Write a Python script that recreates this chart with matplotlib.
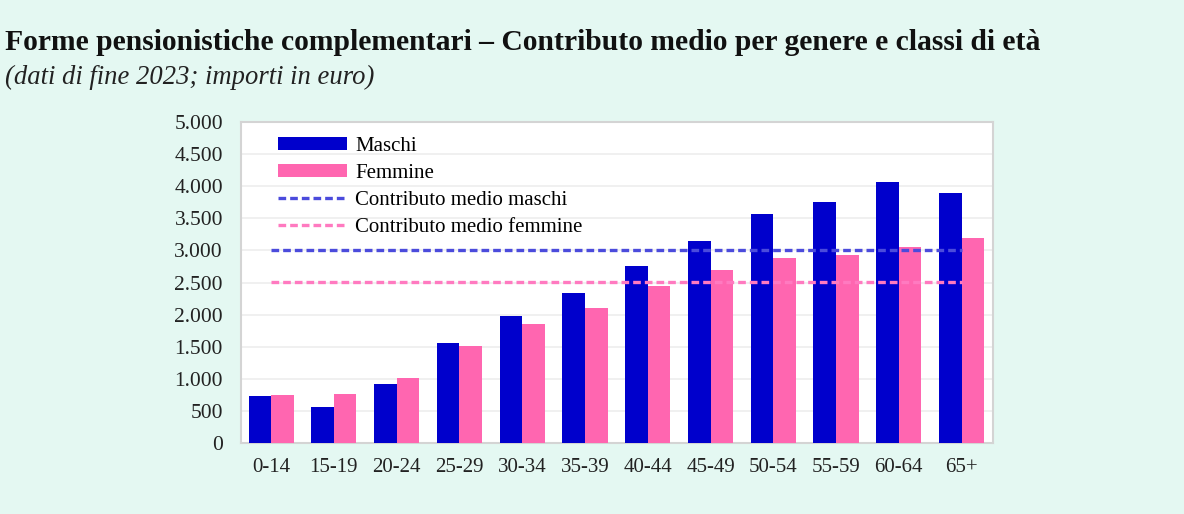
import matplotlib
matplotlib.use('Agg')
from matplotlib import pyplot as plt
import numpy as np

#%% data
classi = ['0-14', '15-19', '20-24', '25-29', '30-34', '35-39', '40-44',
          '45-49', '50-54', '55-59', '60-64', '65+']
maschi = [730, 560, 925, 1565, 1985, 2335, 2760, 3150, 3570, 3760, 4070, 3890]
femmine = [740, 760, 1010, 1505, 1860, 2100, 2445, 2695, 2880, 2930, 3050, 3190]
media_maschi = 3000
media_femmine = 2510
yticks = [0, 500, 1000, 1500, 2000, 2500, 3000, 3500, 4000, 4500, 5000]
ylabels = ['0', '500', '1.000', '1.500', '2.000', '2.500', '3.000', '3.500',
           '4.000', '4.500', '5.000']

#%% style
bg = '#e4f8f2'
blu = '#0000cc'
rosa = '#ff66b0'
plt.rcParams['font.family'] = ['Liberation Serif', 'DejaVu Serif']
plt.rcParams['font.size'] = 15

fig = plt.figure(figsize=(11.84, 5.14), dpi=100, facecolor=bg)
ax = fig.add_axes([241/1184, 1-443/514, (993-241)/1184, (443-122)/514])
ax.set_facecolor('white')

x = np.arange(len(classi))
w = 0.36
b1 = ax.bar(x - w/2, maschi, w, color=blu, label='Maschi', zorder=3)
b2 = ax.bar(x + w/2, femmine, w, color=rosa, label='Femmine', zorder=3)
l1, = ax.plot(x, [media_maschi]*len(x), color='#4b4bdc', lw=2.4, dashes=(2.3, 1.2),
              label='Contributo medio maschi', zorder=4)
l2, = ax.plot(x, [media_femmine]*len(x), color='#ff7ac0', lw=2.4, dashes=(2.3, 1.2),
              label='Contributo medio femmine', zorder=4)

ax.set_xlim(-0.48, 11.5)
ax.set_ylim(0, 5000)
ax.set_yticks(yticks)
ax.set_yticklabels(ylabels, fontsize=15.5)
ax.set_xticks(x)
ax.set_xticklabels(classi)
ax.tick_params(axis='both', length=0, colors='#222222')
ax.tick_params(axis='y', pad=13)
ax.tick_params(axis='x', pad=11)
ax.grid(axis='y', color='#eeeeee', lw=1.2, zorder=0)
for s in ax.spines.values():
    s.set_color('#d4d4d4')
    s.set_linewidth(1.5)

ax.legend(handles=[b1, b2, l1, l2], loc='upper left',
          bbox_to_anchor=(37/752, 1-15/321), frameon=False,
          handlelength=3.3, handleheight=0.6, handletextpad=0.4,
          labelspacing=0.38, borderpad=0, borderaxespad=0, fontsize=15)

fig.text(5/1184, 1-42/514, 'Forme pensionistiche complementari \u2013 Contributo medio per genere e classi di et\u00e0',
         fontsize=21.3, fontweight='bold', va='center', ha='left', color='#111111')
fig.text(5/1184, 1-77/514, '(dati di fine 2023; importi in euro)',
         fontsize=19.2, style='italic', va='center', ha='left', color='#222222')

fig.savefig('out.png', dpi=100, facecolor=bg)
